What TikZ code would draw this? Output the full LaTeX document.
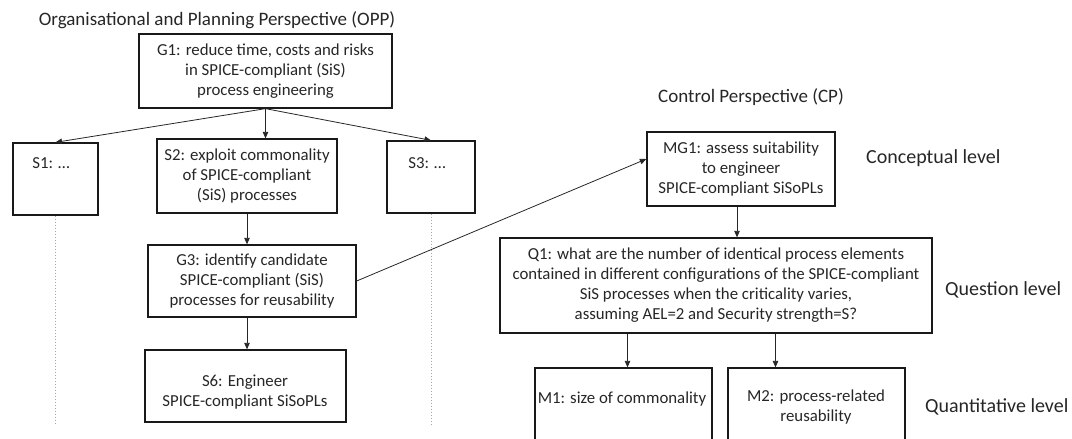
\documentclass[tikz,border=0pt]{standalone}
\usepackage{fontspec}
\setmainfont{Carlito}
\usetikzlibrary{arrows.meta}
\newcommand\bxf{\fontsize{16.8}{20}\selectfont}
\newcommand\ttlf{\fontsize{19}{23}\selectfont}
\newcommand\lvlf{\fontsize{20}{24}\selectfont}
\begin{document}
\begin{tikzpicture}[x=1pt,y=-1pt,
  box/.style={draw=black!90, line width=1.3pt, inner sep=0pt, align=center, font=\bxf, text=black!85},
  txt/.style={inner sep=0pt, align=center, font=\bxf, text=black!85},
  ttl/.style={inner sep=0pt, font=\ttlf, text=black!85},
  lvl/.style={inner sep=0pt, font=\lvlf, anchor=west, text=black!85},
  conn/.style={draw=black!85, line width=0.8pt, -{Triangle[length=6.5pt,width=5.5pt]}},
  guide/.style={draw=black!35, line width=1pt, dotted}]
\useasboundingbox (0,0) rectangle (1072,439);
\clip (0,0) rectangle (1072,439);
% left column
\node[ttl] (opp) at (217,20) {Organisational and Planning Perspective (OPP)};
\node[box, minimum width=253, minimum height=74] (G1) at (265.5,71) {G1: reduce time, costs and risks\\in SPICE-compliant (SiS)\\process engineering};
\node[box, minimum width=85, minimum height=72] (S1) at (55.5,179) {};
\node[txt] (S1t) at (51,163) {S1: …};
\node[box, minimum width=180, minimum height=74] (S2) at (247,176) {S2: exploit commonality\\of SPICE-compliant\\(SiS) processes};
\node[box, minimum width=88, minimum height=72] (S3) at (431,177) {};
\node[txt] (S3t) at (427,163) {S3: …};
\node[box, minimum width=208, minimum height=72] (G3) at (252,281) {G3: identify candidate\\SPICE-compliant (SiS)\\processes for reusability};
\node[box, minimum width=201, minimum height=72] (S6) at (245.5,386) {};
\node[txt] (S6t) at (245,392) {S6: Engineer\\SPICE-compliant SiSoPLs};
\coordinate (d1) at (56,425);
\coordinate (d2) at (427,425);
\draw[guide] (S1.south) -- (S1.south |- d1);
\draw[guide] (S3.south) -- (S3.south |- d2);
% right column
\node[ttl] (cp) at (751,97) {Control Perspective (CP)};
\node[box, minimum width=188, minimum height=74] (MG1) at (741,169) {MG1: assess suitability\\to engineer\\SPICE-compliant SiSoPLs};
\node[box, minimum width=432, minimum height=95] (Q1) at (716,285.5) {Q1: what are the number of identical process elements\\contained in different configurations of the SPICE-compliant\\SiS processes when the criticality varies,\\assuming AEL=2 and Security strength=S?};
\node[box, minimum width=177, minimum height=100] (M1) at (623.5,418) {};
\node[txt] (M1t) at (622,399) {M1: size of commonality};
\node[box, minimum width=177, minimum height=100] (M2) at (816.5,418) {};
\node[txt] (M2t) at (816,407) {M2: process-related\\reusability};
\node[lvl] (L1) at (866,158) {Conceptual level};
\node[lvl] (L2) at (945,290) {Question level};
\node[lvl] (L3) at (925,407) {Quantitative level};
% connectors
\draw[conn] (G1.south) -- (S1.north);
\draw[conn] (G1.south) -- (G1.south |- S2.north);
\draw[conn] (G1.south) -- (S3.north);
\draw[conn] (S2.south) -- (S2.south |- G3.north);
\draw[conn] (S2.south |- G3.south) -- (S2.south |- S6.north);
\draw[conn] (G3.east) -- ([yshift=10pt]MG1.west);
\draw[conn] ([xshift=-4pt]MG1.south) -- ([xshift=-4pt]MG1.south |- Q1.north);
\draw[conn] ([xshift=4pt]M1.north |- Q1.south) -- ([xshift=4pt]M1.north);
\draw[conn] ([xshift=-41pt]M2.north |- Q1.south) -- ([xshift=-41pt]M2.north);
\end{tikzpicture}
\end{document}
